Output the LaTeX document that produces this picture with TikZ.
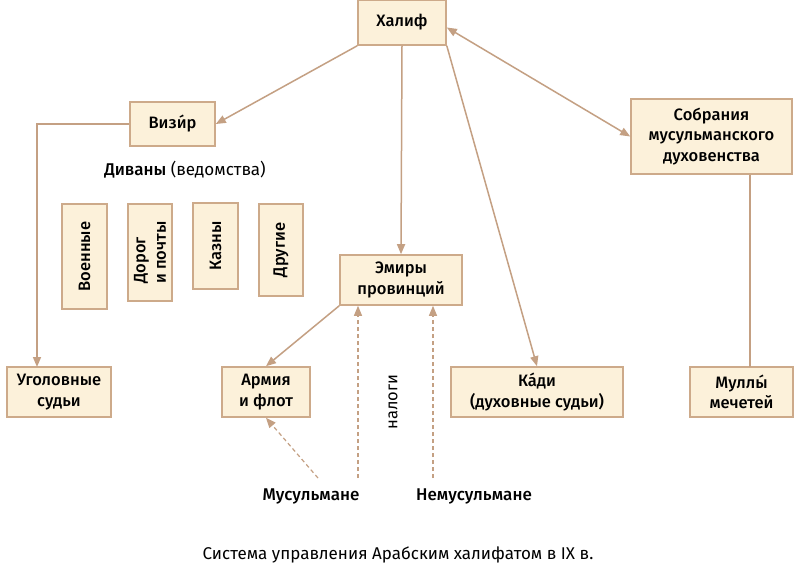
\documentclass[tikz,border=0pt]{standalone}
\usepackage{fontspec}
\setmainfont{Fira Sans}[BoldFont={* Medium}]
\usetikzlibrary{arrows.meta}
\definecolor{bordc}{HTML}{CDAA8A}
\definecolor{fillc}{HTML}{FCF1DA}
\definecolor{linec}{HTML}{C4A083}
\tikzset{
  box/.style={draw=bordc, fill=fillc, line width=1.6pt, inner sep=0pt, align=center, font=\fontsize{16.5}{20.5}\selectfont\bfseries},
  vbox/.style={box, rotate=90, align=left},
  arr/.style={draw=linec, line width=1.5pt, -{Triangle[width=8pt,length=10pt]}},
  plain/.style={draw=linec, line width=1.5pt},
  darr/.style={draw=linec, line width=1.2pt, dash pattern=on 4pt off 3pt, -{Triangle[width=8pt,length=10pt]}},
  lbl/.style={inner sep=0pt, font=\fontsize{17}{20}\selectfont}
}
\begin{document}
\begin{tikzpicture}[x=1pt,y=-1pt]
\useasboundingbox[fill=white] (0,0) rectangle (798,586);
\node[box, minimum width=88pt, minimum height=45pt] (khalif) at (402,22.5) {Халиф};
\node[box, minimum width=85pt, minimum height=44pt] (vizir) at (172.5,124) {Визи́р};
\node[box, minimum width=161pt, minimum height=75pt] (sobr) at (711.5,136.5) {Собрания\\мусульманского\\духовенства};
\node[vbox, minimum width=105pt, minimum height=45pt, align=center] (voen) at (84.5,256.5) {Военные};
\node[vbox, minimum width=97pt, minimum height=44pt] (dorog) at (150,252.5) {Дорог\\и почты};
\node[vbox, minimum width=86pt, minimum height=45pt, align=center] (kazny) at (215.5,246) {Казны};
\node[vbox, minimum width=92pt, minimum height=44pt, align=center] (drugie) at (281,250) {Другие};
\node[box, minimum width=122pt, minimum height=50pt] (emiry) at (401,280) {Эмиры\\провинций};
\node[box, minimum width=104pt, minimum height=50pt] (ugol) at (59,392) {Уголовные\\судьи};
\node[box, minimum width=88pt, minimum height=50pt] (armia) at (266,392) {Армия\\и флот};
\node[box, minimum width=172pt, minimum height=50pt] (kadi) at (537,392) {Ка́ди\\(духовные судьи)};
\node[box, minimum width=103pt, minimum height=50pt] (mully) at (741.5,392) {Муллы́\\мечетей};
\node[lbl] (divany) at (185,170) {\textbf{Диваны} (ведомства)};
\node[lbl, rotate=90, font=\fontsize{16.5}{20}\selectfont] (nalogi) at (393,402) {налоги};
\node[lbl, font=\fontsize{17}{20}\selectfont\bfseries] (musul) at (311,496) {Мусульмане};
\node[lbl, font=\fontsize{17}{20}\selectfont\bfseries] (nemusul) at (474,496) {Немусульмане};
\node[lbl, font=\fontsize{17}{20}\selectfont] (caption) at (398,555) {Система управления Арабским халифатом в IX в.};
\coordinate (m1) at (318,478);
\coordinate (m2) at (358,478);
\coordinate (n1) at (433,478);
\coordinate (ugtop) at (37,367);
\coordinate (mltop) at (750,367);
\draw[arr] (khalif.south west) -- (vizir.east);
\draw[arr] (vizir.west) -| (ugtop);
\draw[arr] (khalif.south) -- (emiry.north);
\draw[arr] (khalif.south east) -- (kadi.north);
\draw[arr, {Triangle[width=8pt,length=10pt]}-{Triangle[width=8pt,length=10pt]}] ([yshift=-5pt]khalif.east) -- (sobr.west);
\draw[plain] (sobr.south -| mltop) -- (mltop);
\draw[arr] (emiry.south west) -- (armia.north);
\draw[darr] (m1) -- (armia.south);
\draw[darr] (m2) -- (m2 |- emiry.south);
\draw[darr] (n1) -- (n1 |- emiry.south);
\end{tikzpicture}
\end{document}
